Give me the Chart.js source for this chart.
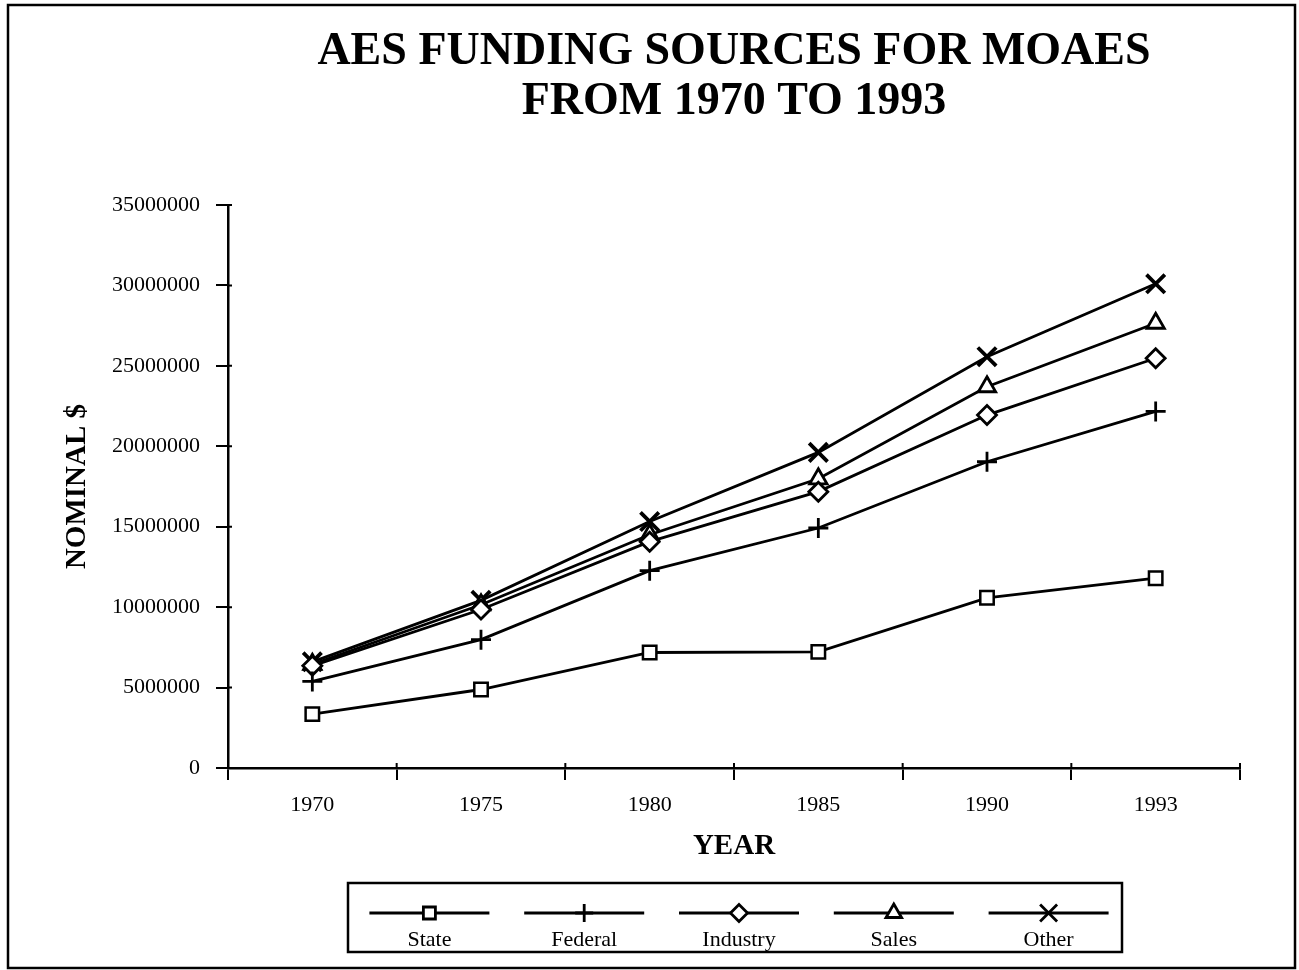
<!DOCTYPE html>
<html>
<head>
<meta charset="utf-8">
<title>AES Funding Sources for MOAES</title>
<script src="https://cdn.jsdelivr.net/npm/chart.js@4/dist/chart.umd.min.js"></script>
<style>
  html, body { margin: 0; padding: 0; background: #fff; }
  canvas { display: block; }
</style>
</head>
<body>
<canvas id="chart" width="1299" height="970"></canvas>
<script>
// values (nominal $)
const years = ["1970", "1975", "1980", "1985", "1990", "1993"];
const stateVals    = [3350000, 4880000, 7180000, 7220000, 10580000, 11800000];
const federalVals  = [5380000, 7980000, 12270000, 14920000, 19040000, 22170000];
const industryVals = [6350000, 9850000, 14070000, 17180000, 21940000, 25470000];
const salesVals    = [6450000, 10150000, 14500000, 17980000, 23700000, 27650000];
const otherVals    = [6600000, 10420000, 15320000, 19620000, 25570000, 30100000];
const yTicks = [0, 5000000, 10000000, 15000000, 20000000, 25000000, 30000000, 35000000];

const serif = "'Liberation Serif', 'Times New Roman', serif";

function series(label, data, style, radius, width) {
    return {
        label: label,
        data: data,
        borderColor: "#000",
        borderWidth: 2.8,
        backgroundColor: "#fff",
        pointStyle: style,
        pointRadius: radius,
        pointBorderWidth: width,
        pointBorderColor: "#000",
        pointBackgroundColor: "#fff",
        tension: 0
    };
}

// page frame
const framePlugin = {
    id: "frame",
    beforeDraw(chart) {
        const ctx = chart.ctx;
        ctx.save();
        ctx.fillStyle = "#fff";
        ctx.fillRect(0, 0, chart.width, chart.height);
        ctx.strokeStyle = "#000";
        ctx.lineWidth = 2.5;
        ctx.strokeRect(8, 5, chart.width - 12, chart.height - 7);
        ctx.restore();
    }
};

// ticks in the reference cross the axis lines a little
const crossTicks = {
    id: "crossTicks",
    afterDraw(chart) {
        const ctx = chart.ctx;
        const a = chart.chartArea;
        ctx.save();
        ctx.strokeStyle = "#000";
        ctx.lineWidth = 2;
        ctx.beginPath();
        const xs = chart.scales.x;
        for (let i = 0; i <= years.length; i++) {
            const px = a.left + (a.right - a.left) * i / years.length;
            ctx.moveTo(px, a.bottom);
            ctx.lineTo(px, a.bottom - 5);
        }
        const ys = chart.scales.y;
        yTicks.forEach(v => {
            const py = ys.getPixelForValue(v);
            ctx.moveTo(a.left, py);
            ctx.lineTo(a.left + 4, py);
        });
        ctx.stroke();
        ctx.restore();
    }
};

// boxed legend, labels under the samples
const boxLegend = {
    id: "boxLegend",
    afterDraw(chart) {
        const ctx = chart.ctx;
        const left = 348, top = 883, w = 774, h = 69;
        ctx.save();
        ctx.strokeStyle = "#000";
        ctx.lineWidth = 2.5;
        ctx.strokeRect(left, top, w, h);
        const n = chart.data.datasets.length;
        const slot = w / n;
        chart.data.datasets.forEach((ds, i) => {
            const cx = left + slot * (i + 0.5) + 4;
            const cy = top + 30;
            ctx.strokeStyle = "#000";
            ctx.lineWidth = 2.8;
            ctx.beginPath();
            ctx.moveTo(cx - 60, cy);
            ctx.lineTo(cx + 60, cy);
            ctx.stroke();
            ctx.fillStyle = "#fff";
            Chart.helpers.drawPoint(ctx, {
                pointStyle: ds.pointStyle,
                radius: ds.pointRadius - 1,
                borderWidth: ds.pointBorderWidth,
                rotation: 0
            }, cx, cy);
            ctx.fillStyle = "#000";
            ctx.font = "22px " + serif;
            ctx.textAlign = "center";
            ctx.textBaseline = "middle";
            ctx.fillText(ds.label, cx, top + 57);
        });
        ctx.restore();
    }
};

new Chart(document.getElementById("chart"), {
    type: "line",
    data: {
        labels: years,
        datasets: [
            series("State", stateVals, "rect", 9.5, 2.5),
            series("Federal", federalVals, "cross", 10, 2.8),
            series("Industry", industryVals, "rectRot", 9.5, 2.8),
            series("Sales", salesVals, "triangle", 10, 2.8),
            series("Other", otherVals, "crossRot", 13, 3.8)
        ]
    },
    options: {
        responsive: false,
        animation: false,
        layout: { padding: { left: 0, right: 59, top: 0, bottom: 92 } },
        plugins: {
            legend: { display: false },
            tooltip: { enabled: false },
            title: {
                display: true,
                fullSize: false,
                text: ["AES FUNDING SOURCES FOR MOAES", "FROM 1970 TO 1993"],
                color: "#000",
                font: { family: serif, size: 46, weight: "bold", lineHeight: "50px" },
                padding: { top: 27, bottom: 78 }
            }
        },
        scales: {
            x: {
                type: "category",
                offset: true,
                grid: {
                    offset: true,
                    drawOnChartArea: false,
                    color: "#000",
                    lineWidth: 2,
                    tickLength: 12
                },
                border: { color: "#000", width: 2.5 },
                ticks: {
                    color: "#000",
                    font: { family: serif, size: 22 },
                    padding: 12,
                    maxRotation: 0
                },
                title: {
                    display: true,
                    text: "YEAR",
                    color: "#000",
                    font: { family: serif, size: 29, weight: "bold" },
                    padding: { top: 0, bottom: 14 }
                },
                afterFit(scale) { scale.height = 110; }
            },
            y: {
                min: 0,
                max: 35000000,
                afterBuildTicks(scale) { scale.ticks = yTicks.map(v => ({ value: v })); },
                grid: {
                    drawOnChartArea: false,
                    color: "#000",
                    lineWidth: 2,
                    tickLength: 12
                },
                border: { color: "#000", width: 2.5 },
                ticks: {
                    color: "#000",
                    font: { family: serif, size: 22 },
                    padding: 16,
                    callback: v => String(v)
                },
                title: {
                    display: true,
                    text: "NOMINAL $",
                    color: "#000",
                    font: { family: serif, size: 29, weight: "bold" },
                    padding: { top: 60, bottom: 0 }
                },
                afterFit(scale) { scale.width = 228; }
            }
        }
    },
    plugins: [framePlugin, crossTicks, boxLegend]
});
</script>
</body>
</html>
